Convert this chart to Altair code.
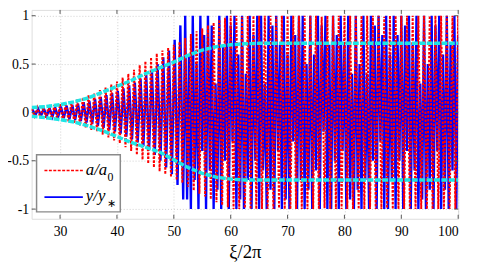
import altair as alt
import pandas as pd

# ---------------- data ----------------
x_ticks = [30, 40, 50, 60, 70, 80, 90, 100]
y_ticks = [-1, -0.5, 0, 0.5, 1]

# a/a0 : amplitude of each cycle, xi/2pi = 25 ... 100
red_amp = [0.04, 0.05, 0.055, 0.065, 0.075, 0.085, 0.10, 0.115, 0.135, 0.155,
           0.18, 0.20, 0.23, 0.26, 0.29, 0.32, 0.36, 0.40, 0.44, 0.49,
           0.53, 0.57, 0.61, 0.64, 0.67, 0.70, 0.73, 0.77, 0.81, 0.84,
           0.87, 0.90, 0.93, 0.96, 0.98, 1.0, 1.0, 0.99, 1.0, 1.0,
           1.0, 1.0, 1.0, 0.99, 1.0, 1.0, 1.0, 1.0, 1.0, 1.0,
           1.0, 0.99, 1.0, 1.0, 1.0, 1.0, 1.0, 1.0, 1.0, 1.0,
           1.0, 1.0, 0.99, 1.0, 1.0, 1.0, 1.0, 1.0, 1.0, 1.0,
           1.0, 1.0, 1.0, 1.0, 1.0, 1.0]
red_start = 25

# y/y* : amplitude of each cycle in the growing part, xi/2pi = 25 ... 51
blue_early_amp = [0.03, 0.035, 0.04, 0.045, 0.05, 0.06, 0.07, 0.08, 0.09, 0.105,
                  0.12, 0.14, 0.16, 0.18, 0.20, 0.22, 0.25, 0.28, 0.31, 0.35,
                  0.39, 0.44, 0.50, 0.57, 0.64, 0.75, 0.90]
blue_early_start = 25
# y/y* : extrema in the saturated (chaotic) part, three per cycle from xi/2pi = 52
blue_late = [1, -0.9, 0.6, -1, 1, -0.7, 0.5, -1, 1, -0.4, 0.8, -1,
             1, -0.6, 0.9, -1, 0.3, -0.8, 1, -1, 0.7, -0.5, 1, -1,
             0.9, -0.3, 1, -1, 0.6, -0.9, 1, -1, 0.4, -0.7, 1, -1,
             0.8, -0.5, 1, -1, 1, -0.6, 0.3, -1, 1, -0.8, 0.9, -1,
             1, -0.4, 0.7, -1, 1, -0.9, 0.6, -1, 1, -0.3, 0.8, -1,
             1, -0.7, 1, -1, 0.5, -0.8, 1, -1, 0.6, -0.6, 1, -1,
             0.9, -0.2, 1, -1, 0.7, -1, 1, -0.5, 0.8, -1, 1, -0.4,
             0.7, -1, 1, -0.9, 0.4, -1, 1, -0.8, 0.5, -1, 1, -0.7,
             0.4, -1, 1, -0.5, 0.9, -1, 1, -0.3, 0.8, -1, 1, -1,
             0.6, -0.7, 1, -1, 0.8, -0.5, 1, -1, 0.9, -0.4, 1, -1,
             0.7, -0.6, 1, -1, 0.3, -0.9, 1, -1, 0.5, -0.8, 1, -1,
             0.9, -0.4, 1, -1, 0.6, -0.8, 1, -1, 0.7, -0.6, 1, -1,
             0.8]
blue_late_start = 52
blue_late_step = 1 / 3

# envelope (cyan)
cyan_x = [25, 27.5, 30, 32.5, 35, 37.5, 40, 42.5, 45, 47.5, 50, 52.5, 55, 57.5,
          60, 62.5, 65, 67.5, 70, 72.5, 75, 77.5, 80, 82.5, 85, 87.5, 90, 92.5,
          95, 97.5, 100]
cyan_upper = [0.05, 0.06, 0.08, 0.11, 0.15, 0.21, 0.27, 0.33, 0.40, 0.46, 0.52,
              0.59, 0.645, 0.68, 0.70, 0.71, 0.715, 0.715, 0.715, 0.715, 0.715,
              0.715, 0.715, 0.715, 0.715, 0.715, 0.715, 0.715, 0.715, 0.715, 0.715]
cyan_lower = [-0.04, -0.055, -0.075, -0.10, -0.14, -0.19, -0.25, -0.31, -0.36,
              -0.41, -0.49, -0.57, -0.63, -0.67, -0.69, -0.70, -0.70, -0.70,
              -0.70, -0.70, -0.70, -0.70, -0.70, -0.70, -0.70, -0.70, -0.70,
              -0.70, -0.70, -0.70, -0.70]

# ---------------- tables ----------------
red_rows = []
for i, a in enumerate(red_amp):
    n = red_start + i
    red_rows.append((n, a))
    red_rows.append((n + 0.5, -a))
red_df = pd.DataFrame(red_rows, columns=["x", "y"])

blue_rows = []
for i, a in enumerate(blue_early_amp):
    n = blue_early_start + i
    blue_rows.append((n + 0.15, a))
    blue_rows.append((n + 0.65, -a))
for k, v in enumerate(blue_late):
    blue_rows.append((blue_late_start + k * blue_late_step, v))
blue_df = pd.DataFrame(blue_rows, columns=["x", "y"])

cyan_up_df = pd.DataFrame({"x": cyan_x, "y": cyan_upper})
cyan_lo_df = pd.DataFrame({"x": cyan_x, "y": cyan_lower})

xt_df = pd.DataFrame({"x": x_ticks})
yt_df = pd.DataFrame({"y": y_ticks})

FONT = "Liberation Serif"
W, H = 433, 212

xscale = alt.Scale(domain=[25, 100], nice=False, zero=False)
yscale = alt.Scale(domain=[-1.1, 1.06], nice=False, zero=False)

x_axis = alt.Axis(values=x_ticks, title="ξ/2π", ticks=False, domain=False,
                  labelFont=FONT, labelFontSize=14, labelColor="black",
                  labelPadding=6, titleFont=FONT, titleFontSize=19,
                  titleFontWeight="normal", titleColor="black", titlePadding=4,
                  grid=True, gridDash=[1, 2], gridColor="#cfcfcf")
y_axis = alt.Axis(values=y_ticks, title=None, ticks=False, domain=False,
                  labelFont=FONT, labelFontSize=14, labelColor="black",
                  labelPadding=3, labelExpr="toString(datum.value)",
                  grid=True, gridDash=[1, 2], gridColor="#cfcfcf")

X = alt.X("x:Q", scale=xscale, axis=x_axis)
Y = alt.Y("y:Q", scale=yscale, axis=y_axis)
Xn = alt.X("x:Q", scale=xscale)
Yn = alt.Y("y:Q", scale=yscale)

blue = alt.Chart(blue_df).mark_line(color="#0000ff", strokeWidth=2.4,
                                    clip=True).encode(x=X, y=Y)
red = alt.Chart(red_df).mark_line(color="#ff0000", strokeWidth=2.0,
                                  strokeDash=[2.5, 1.5], clip=True).encode(x=Xn, y=Yn)
cyan_up = alt.Chart(cyan_up_df).mark_line(color="#1ee5e5", strokeWidth=3.5,
                                          strokeDash=[6, 1.5], clip=True).encode(x=Xn, y=Yn)
cyan_lo = alt.Chart(cyan_lo_df).mark_line(color="#1ee5e5", strokeWidth=3.5,
                                          strokeDash=[6, 1.5], clip=True).encode(x=Xn, y=Yn)

tick_col = "#555555"
xt_top = alt.Chart(xt_df).mark_rule(color=tick_col, strokeWidth=1).encode(
    x=Xn, y=alt.value(0), y2=alt.value(4))
xt_bot = alt.Chart(xt_df).mark_rule(color=tick_col, strokeWidth=1).encode(
    x=Xn, y=alt.value(H - 4), y2=alt.value(H))
yt_left = alt.Chart(yt_df).mark_rule(color=tick_col, strokeWidth=1).encode(
    y=Yn, x=alt.value(0), x2=alt.value(4))
yt_right = alt.Chart(yt_df).mark_rule(color=tick_col, strokeWidth=1).encode(
    y=Yn, x=alt.value(W - 4), x2=alt.value(W))

one = alt.Data(values=[{"k": 1}])
leg_box = alt.Chart(one).mark_rect(fill="white", stroke="#8a8a8a",
                                   strokeWidth=1.5).encode(
    x=alt.value(5), x2=alt.value(90), y=alt.value(147), y2=alt.value(205))
leg_red = alt.Chart(one).mark_rule(color="#ff0000", strokeWidth=1.5,
                                   strokeDash=[3, 1.5]).encode(
    x=alt.value(13), x2=alt.value(52), y=alt.value(163))
leg_blue = alt.Chart(one).mark_rule(color="#0000ff", strokeWidth=1.8).encode(
    x=alt.value(13), x2=alt.value(52), y=alt.value(190))
txt = dict(font=FONT, fontStyle="italic", color="black", align="left",
           baseline="middle")
leg_t1 = alt.Chart(one).mark_text(fontSize=17, **txt).encode(
    x=alt.value(55), y=alt.value(163), text=alt.value("a/a"))
leg_t1s = alt.Chart(one).mark_text(fontSize=12, font=FONT, color="black",
                                   align="left", baseline="middle").encode(
    x=alt.value(77), y=alt.value(170), text=alt.value("0"))
leg_t2 = alt.Chart(one).mark_text(fontSize=17, **txt).encode(
    x=alt.value(55), y=alt.value(189), text=alt.value("y/y"))
leg_t2s = alt.Chart(one).mark_text(fontSize=11, font=FONT, color="black",
                                   align="left", baseline="middle").encode(
    x=alt.value(77), y=alt.value(197), text=alt.value("∗"))

chart = alt.layer(
    blue, red, cyan_up, cyan_lo, xt_top, xt_bot, yt_left, yt_right,
    leg_box, leg_red, leg_blue, leg_t1, leg_t1s, leg_t2, leg_t2s
).properties(
    width=W, height=H,
    autosize=alt.AutoSizeParams(type="none"),
    padding={"left": 24, "top": 0, "right": 12, "bottom": 46},
).configure_view(
    stroke="#8a8a8a", strokeWidth=2
).configure(background="white")

chart.save("out.html", embed_options={"renderer": "svg", "actions": False})
